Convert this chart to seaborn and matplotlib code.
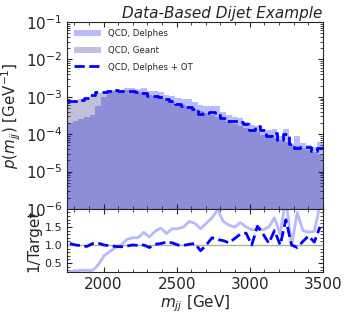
import numpy as np
import pandas as pd
import matplotlib
matplotlib.use('Agg')
import matplotlib.pyplot as plt
from matplotlib.ticker import AutoMinorLocator
import seaborn as sns

### style
sns.set_style('ticks')
plt.rcParams['font.family'] = ['DejaVu Sans']
plt.rcParams['xtick.direction'] = 'in'
plt.rcParams['ytick.direction'] = 'in'

### data, 45 bins of m_jj between 1750 and 3500 GeV
bin_edges = list(np.linspace(1750, 3500, 46))
bin_centers = [0.5 * (lo + hi) for lo, hi in zip(bin_edges[:-1], bin_edges[1:])]

# target histogram: QCD, Geant  [GeV^-1]
geant = [7.6e-4, 7.9e-4, 8.5e-4, 9.5e-4, 1.1e-3, 1.25e-3, 1.38e-3, 1.5e-3, 1.56e-3,
         1.55e-3, 1.5e-3, 1.42e-3, 1.33e-3, 1.24e-3, 1.14e-3, 1.03e-3, 9.3e-4, 8.3e-4,
         7.4e-4, 6.6e-4, 5.9e-4, 5.2e-4, 4.6e-4, 4.1e-4, 3.6e-4, 3.2e-4, 2.8e-4,
         2.45e-4, 2.15e-4, 1.9e-4, 1.65e-4, 1.45e-4, 1.27e-4, 1.12e-4, 9.8e-5, 8.7e-5,
         7.7e-5, 6.8e-5, 6.0e-5, 5.3e-5, 4.7e-5, 4.2e-5, 3.7e-5, 3.3e-5, 2.9e-5]

# ratio to target: QCD, Delphes
ratio_delphes = [0.27, 0.28, 0.30, 0.30, 0.30, 0.45, 0.70, 0.82, 0.92, 1.00, 1.15, 1.20,
                 1.20, 1.35, 1.22, 1.38, 1.47, 1.32, 1.45, 1.45, 1.50, 1.65, 1.60, 1.45,
                 1.60, 1.75, 1.97, 1.65, 1.55, 1.50, 1.62, 1.50, 1.42, 1.45, 1.42, 1.50,
                 1.75, 1.30, 2.30, 0.98, 1.90, 1.40, 1.35, 1.38, 2.10]

# ratio to target: QCD, Delphes + OT
ratio_ot = [1.04, 1.00, 0.98, 0.96, 1.04, 1.05, 1.00, 0.98, 0.96, 0.95, 0.97, 1.00,
            0.99, 1.00, 0.93, 1.02, 1.04, 1.08, 1.06, 1.00, 0.99, 1.02, 1.04, 0.84,
            1.00, 1.20, 1.15, 1.12, 1.06, 1.18, 1.30, 1.33, 1.00, 1.52, 1.30, 1.05,
            1.40, 1.00, 1.70, 1.00, 0.93, 1.10, 1.25, 1.08, 1.50]

df = pd.DataFrame({'mjj': bin_centers, 'geant': geant,
                   'r_delphes': ratio_delphes, 'r_ot': ratio_ot})
df['delphes'] = df['geant'] * df['r_delphes']
df['ot'] = df['geant'] * df['r_ot']

### figure
fig = plt.figure(figsize=(3.49, 3.16), dpi=100)
ax = fig.add_axes([0.192, 0.339, 0.733, 0.591])
rax = fig.add_axes([0.192, 0.139, 0.733, 0.200], sharex=ax)

sns.histplot(data=df, x='mjj', weights='delphes', bins=bin_edges, element='step',
             fill=True, color='blue', alpha=0.27, linewidth=0, label='QCD, Delphes', ax=ax)
sns.histplot(data=df, x='mjj', weights='geant', bins=bin_edges, element='step',
             fill=True, color='#191970', alpha=0.27, linewidth=0, label='QCD, Geant', ax=ax)
sns.histplot(data=df, x='mjj', weights='ot', bins=bin_edges, element='step',
             fill=False, color='blue', linewidth=2, linestyle='--',
             label='QCD, Delphes + OT', ax=ax)

ax.set_yscale('log')
ax.set_ylim(1e-6, 1e-1)
ax.set_xlim(1750, 3500)
ax.set_xlabel('')
ax.set_ylabel(r'$p(m_{jj})$ [GeV$^{-1}$]', fontsize=10.8, labelpad=2)
ax.tick_params(axis='both', which='both', top=True, right=True, labelsize=11)
ax.tick_params(axis='x', labelbottom=False)
ax.legend(loc='upper left', frameon=False, fontsize=6.2, handlelength=3.2,
          borderaxespad=0.4, labelspacing=0.9)
ax.set_title('Data-Based Dijet Example', loc='right', fontstyle='italic',
             fontsize=11, pad=3)

### ratio panel
rax.axhline(1.0, color='#b0b0b0', linewidth=1)
sns.lineplot(data=df, x='mjj', y='r_delphes', color=(0.72, 0.72, 1.0), linewidth=2, ax=rax)
sns.lineplot(data=df, x='mjj', y='r_ot', color='blue', linewidth=2, linestyle='--', ax=rax)
rax.set_ylim(0.25, 2.0)
rax.set_yticks([0.5, 1.0, 1.5])
rax.set_xticks([2000, 2500, 3000, 3500])
rax.xaxis.set_minor_locator(AutoMinorLocator(5))
rax.yaxis.set_minor_locator(AutoMinorLocator(5))
rax.tick_params(axis='both', which='both', top=True, right=True)
rax.tick_params(axis='x', labelsize=11)
rax.tick_params(axis='y', labelsize=8)
rax.set_xlabel(r'$m_{jj}$ [GeV]', fontsize=11, labelpad=1)
rax.set_ylabel('1/Target', fontsize=11, labelpad=2)

fig.savefig('out.png', dpi=100)
